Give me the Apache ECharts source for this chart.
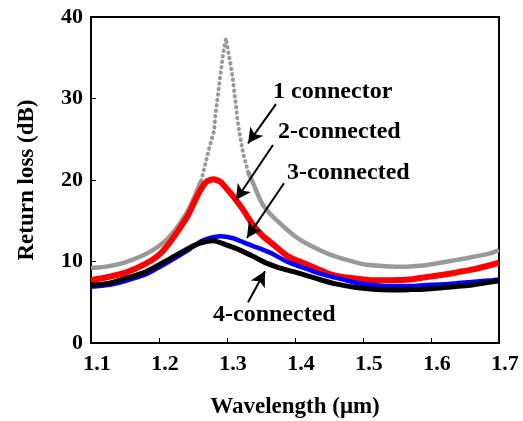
<!DOCTYPE html>
<html>
<head>
<meta charset="utf-8">
<script src="https://cdn.jsdelivr.net/npm/echarts@6/dist/echarts.min.js"></script>
<style>
  html, body { margin: 0; padding: 0; background: #fff; }
  #main { width: 523px; height: 421px; }
</style>
</head>
<body>
<div id="main"></div>
<script>
const chartDom = document.getElementById('main');
const myChart = echarts.init(chartDom);
let option;

// wavelength (um) / return loss (dB)
const grayWl = [1.100, 1.125, 1.150, 1.180, 1.200, 1.215, 1.230, 1.243, 1.255, 1.262,
    1.270, 1.276, 1.281, 1.2824, 1.2848, 1.2872, 1.2897, 1.2922, 1.2946, 1.2985,
    1.3019, 1.3054, 1.3084, 1.3107, 1.3132, 1.3151, 1.3181, 1.324, 1.331, 1.339,
    1.351, 1.365, 1.383, 1.400, 1.417, 1.447, 1.476, 1.505, 1.540, 1.555,
    1.588, 1.603, 1.638, 1.652, 1.687, 1.700];
const grayRl = [9.2, 9.4, 9.9, 10.9, 11.9, 13.0, 14.6, 16.3, 18.5, 19.9,
    22.6, 24.6, 26.0, 27.6, 29.2, 30.8, 32.5, 34.1, 35.7, 37.4,
    35.7, 34.1, 32.5, 30.8, 29.2, 27.6, 25.9, 23.2, 21.0, 19.5,
    17.2, 15.7, 14.3, 13.1, 12.2, 11.0, 10.2, 9.6, 9.4, 9.35,
    9.5, 9.7, 10.2, 10.4, 11.0, 11.4];

const redWl = [1.100, 1.125, 1.150, 1.180, 1.200, 1.213, 1.230, 1.243, 1.255, 1.262,
    1.270, 1.280, 1.290, 1.300, 1.310, 1.324, 1.339, 1.353, 1.368, 1.390,
    1.410, 1.430, 1.450, 1.470, 1.490, 1.510, 1.540, 1.570, 1.590, 1.620,
    1.640, 1.660, 1.690, 1.700];
const redRl = [7.7, 8.1, 8.6, 9.7, 10.8, 12.0, 14.0, 15.7, 17.8, 18.9,
    19.8, 20.1, 19.8, 18.9, 17.9, 16.3, 14.4, 13.1, 12.1, 10.6,
    9.9, 9.2, 8.5, 8.1, 7.9, 7.7, 7.7, 7.8, 8.05, 8.4,
    8.7, 9.0, 9.6, 9.85];

const blueWl = [1.100, 1.125, 1.150, 1.180, 1.213, 1.243, 1.262, 1.275, 1.290, 1.309,
    1.329, 1.348, 1.368, 1.390, 1.410, 1.430, 1.450, 1.470, 1.490, 1.510,
    1.540, 1.570, 1.590, 1.620, 1.640, 1.660, 1.690, 1.700];
const blueRl = [6.9, 7.1, 7.6, 8.4, 9.9, 11.4, 12.5, 12.9, 13.1, 12.85,
    12.2, 11.6, 10.9, 9.9, 9.3, 8.7, 8.2, 7.8, 7.4, 7.15,
    7.0, 7.0, 7.1, 7.2, 7.35, 7.5, 7.7, 7.8];

const blackWl = [1.100, 1.125, 1.150, 1.180, 1.213, 1.243, 1.262, 1.280, 1.300, 1.319,
    1.339, 1.358, 1.378, 1.398, 1.420, 1.440, 1.460, 1.490, 1.520, 1.540,
    1.570, 1.590, 1.620, 1.640, 1.660, 1.690, 1.700];
const blackRl = [7.1, 7.3, 7.9, 8.7, 10.2, 11.6, 12.3, 12.55, 12.0, 11.4,
    10.6, 9.8, 9.2, 8.75, 8.2, 7.7, 7.25, 6.8, 6.55, 6.5,
    6.55, 6.6, 6.8, 6.95, 7.1, 7.5, 7.6];

const xTicks = [1.1, 1.2, 1.3, 1.4, 1.5, 1.6, 1.7];
const yTicks = [0, 10, 20, 30, 40];

const font = 'Liberation Serif';

function pairs(wl, rl) {
    return wl.map(function (w, i) { return [w, rl[i]]; });
}

// gray curve: solid on the shoulders, dotted on the sharp peak
const grayAll = pairs(grayWl, grayRl);
const peakFrom = 1.262, peakTo = 1.331;
const graySolid = [];
grayAll.forEach(function (p) {
    if (p[0] <= peakFrom || p[0] >= peakTo) graySolid.push(p);
    if (p[0] === peakFrom) graySolid.push([p[0] + 0.0001, null]);
});
const grayPeak = grayAll.filter(function (p) {
    return p[0] >= peakFrom && p[0] <= peakTo;
});

function arrow(from, to) {
    return [{ coord: from }, { coord: to }];
}

option = {
    animation: false,
    grid: {
        left: 91,
        right: 24,
        top: 17,
        bottom: 78,
        outerBoundsMode: 'none',
        show: true,
        borderColor: '#000',
        borderWidth: 2
    },
    xAxis: {
        type: 'value',
        min: 1.1,
        max: 1.7,
        interval: 0.1,
        name: 'Wavelength (\u03bcm)',
        nameLocation: 'middle',
        nameGap: 53,
        nameTextStyle: { fontFamily: font, fontWeight: 'bold', fontSize: 23, color: '#000' },
        splitLine: { show: false },
        axisLine: { lineStyle: { color: '#000', width: 2 } },
        axisTick: { inside: true, length: 5, lineStyle: { color: '#000', width: 1 } },
        axisLabel: {
            margin: 10,
            padding: [0, 0, 0, 12],
            fontFamily: font, fontWeight: 'bold', fontSize: 22, color: '#000',
            customValues: xTicks,
            formatter: function (v) { return v.toFixed(1); }
        }
    },
    yAxis: {
        type: 'value',
        min: 0,
        max: 40,
        interval: 10,
        name: 'Return loss (dB)',
        nameLocation: 'middle',
        nameGap: 52,
        nameTextStyle: { fontFamily: font, fontWeight: 'bold', fontSize: 23, color: '#000' },
        splitLine: { show: false },
        axisLine: { lineStyle: { color: '#000', width: 2 } },
        axisTick: { inside: true, length: 5, lineStyle: { color: '#000', width: 1 } },
        axisLabel: {
            margin: 8,
            fontFamily: font, fontWeight: 'bold', fontSize: 22, color: '#000',
            customValues: yTicks
        }
    },
    series: [
        {
            type: 'line',
            data: graySolid,
            showSymbol: false,
            smooth: 0.2,
            lineStyle: { color: '#999999', width: 4.5 }
        },
        {
            type: 'line',
            data: grayPeak,
            showSymbol: false,
            lineStyle: { color: '#999999', width: 4, type: [0.5, 5], cap: 'round' }
        },
        {
            type: 'line',
            data: pairs(redWl, redRl),
            showSymbol: false,
            smooth: 0.2,
            lineStyle: { color: '#ff0000', width: 6 }
        },
        {
            type: 'line',
            data: pairs(blueWl, blueRl),
            showSymbol: false,
            smooth: 0.2,
            lineStyle: { color: '#0000ff', width: 4.5 }
        },
        {
            type: 'line',
            data: pairs(blackWl, blackRl),
            showSymbol: false,
            smooth: 0.2,
            lineStyle: { color: '#000000', width: 5 },
            markLine: {
                silent: true,
                symbol: ['none', 'arrow'],
                symbolSize: [12, 15],
                label: { show: false },
                lineStyle: { color: '#000', width: 2, type: 'solid' },
                data: [
                    arrow([1.372, 29.3], [1.331, 24.5]),
                    arrow([1.3676, 24.3], [1.3132, 17.55]),
                    arrow([1.3838, 19.6], [1.3294, 12.9]),
                    arrow([1.3309, 5.0], [1.3559, 8.8])
                ]
            }
        }
    ],
    graphic: [
        { type: 'text', x: 273, y: 92, style: { text: '1 connector', font: 'bold 24px "Liberation Serif"', fill: '#000', verticalAlign: 'middle' } },
        { type: 'text', x: 278, y: 132, style: { text: '2-connected', font: 'bold 24px "Liberation Serif"', fill: '#000', verticalAlign: 'middle' } },
        { type: 'text', x: 287, y: 173, style: { text: '3-connected', font: 'bold 24px "Liberation Serif"', fill: '#000', verticalAlign: 'middle' } },
        { type: 'text', x: 213, y: 315, style: { text: '4-connected', font: 'bold 24px "Liberation Serif"', fill: '#000', verticalAlign: 'middle' } }
    ]
};

option && myChart.setOption(option);
</script>
</body>
</html>
